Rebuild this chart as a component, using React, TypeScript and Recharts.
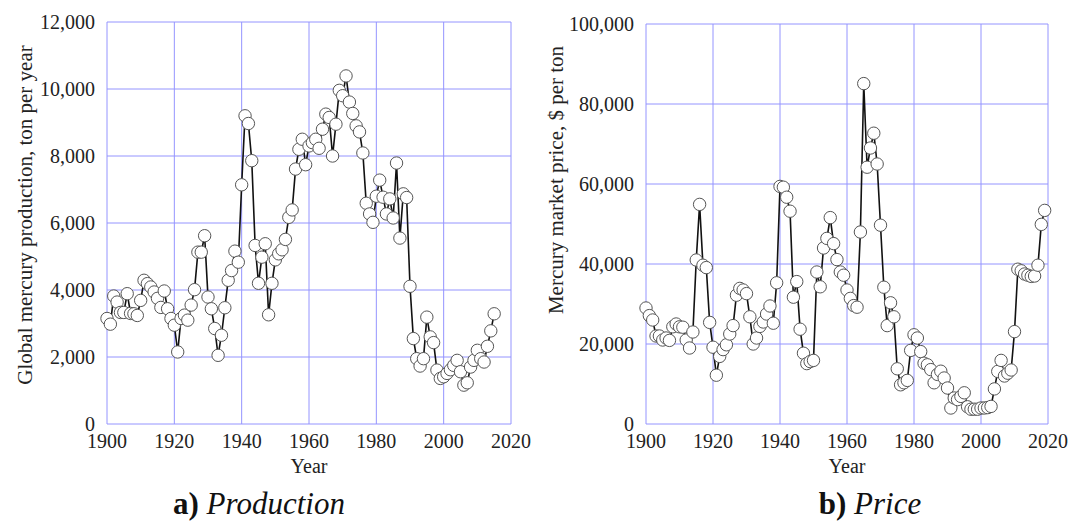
import React from 'react';
import { LineChart, Line, XAxis, YAxis, CartesianGrid } from 'recharts';

const FONT = '"Liberation Serif", "Times New Roman", serif';

// ---- Data ----
const productionYears: number[] = [];
for (let y = 1900; y <= 2015; y++) productionYears.push(y);
const productionValues = [
  3150, 2980, 3820, 3640, 3330, 3330, 3890, 3300, 3290, 3240,
  3690, 4290, 4190, 4090, 3940, 3750, 3480, 3970, 3440, 3150,
  2950, 2150, 3150, 3250, 3100, 3550, 4010, 5130, 5130, 5620,
  3790, 3440, 2850, 2050, 2650, 3470, 4290, 4580, 5160, 4830,
  7140, 9200, 8970, 7860, 5330, 4200, 4980, 5380, 3260, 4200,
  4900, 5080, 5200, 5510, 6170, 6390, 7610, 8200, 8500, 7740,
  8300, 8400, 8500, 8230, 8800, 9250, 9150, 8000, 8950, 9960,
  9800, 10390, 9610, 9270, 8900, 8720, 8090, 6590, 6270, 6020,
  6800, 7280, 6770, 6270, 6720, 6150, 7790, 5550, 6870, 6760,
  4110, 2550, 1950, 1730, 1950, 3190, 2600, 2430, 1610, 1360,
  1410, 1510, 1620, 1750, 1900, 1560, 1160, 1230, 1700, 1900,
  2200, 1950, 1850, 2320, 2780, 3290,
];

const priceYears: number[] = [];
for (let y = 1900; y <= 2019; y++) priceYears.push(y);
const priceValues = [
  29000, 27100, 26000, 22000, 22000, 21000, 21500, 20900, 24300, 25000,
  24300, 24200, 21000, 19000, 23000, 41000, 54900, 39700, 39100, 25400,
  19200, 12200, 16900, 18600, 19800, 22500, 24600, 32200, 33900, 33500,
  32600, 26800, 20000, 21500, 24400, 25500, 27500, 29500, 25200, 35300,
  59400, 59200, 56700, 53200, 31700, 35600, 23700, 17700, 15100, 15600,
  15900, 38000, 34300, 44000, 46400, 51600, 45100, 41100, 38000, 37200,
  33500, 31400, 29600, 29200, 48000, 85100, 64200, 69000, 72700, 65000,
  49700, 34200, 24600, 30300, 26800, 13800, 9800, 10300, 10900, 18400,
  22300, 21500, 18100, 15200, 14800, 13600, 10300, 12400, 13200, 11500,
  9000, 4000, 6500, 6100, 6900, 7800, 4300, 3700, 3700, 3700,
  4000, 4000, 4100, 4400, 8770, 13150, 15900, 12000, 12700, 13500,
  23100, 38700, 38300, 37500, 37200, 36900, 37000, 39700, 49900, 53400,
];

const xMajorTicks = [1900, 1920, 1940, 1960, 1980, 2000, 2020];
const xMinorTicks: number[] = [];
for (let y = 1900; y <= 2020; y += 5) xMinorTicks.push(y);

const prodMajorTicks = [0, 2000, 4000, 6000, 8000, 10000, 12000];
const prodMinorTicks: number[] = [];
for (let v = 0; v <= 12000; v += 500) prodMinorTicks.push(v);

const priceMajorTicks = [0, 20000, 40000, 60000, 80000, 100000];
const priceMinorTicks: number[] = [];
for (let v = 0; v <= 100000; v += 5000) priceMinorTicks.push(v);

const productionData = productionYears.map((year, i) => ({ year, v: productionValues[i] }));
const priceData = priceYears.map((year, i) => ({ year, v: priceValues[i] }));

const AXIS = '#9a9a9a';
const GRID = '#9494ff';
const empty = () => '';
const fmt = (v: number) => v.toLocaleString('en-US');

function Panel(props: {
  width: number;
  data: { year: number; v: number }[];
  yMax: number;
  yMajor: number[];
  yMinor: number[];
  margin: { top: number; right: number; bottom: number; left: number };
}) {
  const { width, data, yMax, yMajor, yMinor, margin } = props;
  const tickStyle = { fontSize: 20, fontFamily: FONT, fill: '#222' };
  return (
    <LineChart width={width} height={521} data={data} margin={margin}>
      <CartesianGrid stroke={GRID} strokeWidth={1} xAxisId="main" yAxisId="main" />
      <XAxis
        xAxisId="main"
        dataKey="year"
        type="number"
        domain={[1900, 2020]}
        ticks={xMajorTicks}
        interval={0}
        tickLine={false}
        axisLine={false}
        tickSize={0}
        tickMargin={10}
        height={30}
        tick={tickStyle}
      />
      <XAxis
        xAxisId="bminor"
        dataKey="year"
        type="number"
        domain={[1900, 2020]}
        ticks={xMinorTicks}
        interval={0}
        mirror
        tickFormatter={empty}
        tickSize={4}
        height={0}
        axisLine={{ stroke: AXIS }}
        tickLine={{ stroke: AXIS }}
      />
      <XAxis
        xAxisId="tminor"
        orientation="top"
        dataKey="year"
        type="number"
        domain={[1900, 2020]}
        ticks={xMinorTicks}
        interval={0}
        mirror
        tickFormatter={empty}
        tickSize={4}
        height={0}
        axisLine={{ stroke: AXIS }}
        tickLine={{ stroke: AXIS }}
      />
      <YAxis
        yAxisId="main"
        type="number"
        domain={[0, yMax]}
        ticks={yMajor}
        interval={0}
        tickLine={false}
        axisLine={false}
        tickSize={0}
        tickMargin={12}
        width={60}
        tickFormatter={fmt}
        tick={tickStyle}
      />
      <YAxis
        yAxisId="lminor"
        type="number"
        domain={[0, yMax]}
        ticks={yMinor}
        interval={0}
        mirror
        tickFormatter={empty}
        tickSize={4}
        width={0}
        axisLine={{ stroke: AXIS }}
        tickLine={{ stroke: AXIS }}
      />
      <YAxis
        yAxisId="rminor"
        orientation="right"
        type="number"
        domain={[0, yMax]}
        ticks={yMinor}
        interval={0}
        mirror
        tickFormatter={empty}
        tickSize={4}
        width={0}
        axisLine={{ stroke: AXIS }}
        tickLine={{ stroke: AXIS }}
      />
      <Line
        xAxisId="main"
        yAxisId="main"
        type="linear"
        dataKey="v"
        stroke="#111"
        strokeWidth={1.6}
        dot={{ r: 6.2, fill: '#fff', stroke: '#555', strokeWidth: 1 }}
        isAnimationActive={false}
      />
    </LineChart>
  );
}

export default function App() {
  return (
    <div style={{ position: 'absolute', left: 0, top: 0, width: 1074, height: 521, background: '#fff', overflow: 'hidden' }}>
      <div style={{ position: 'absolute', left: 0, top: 0 }}>
        <Panel
          width={540}
          data={productionData}
          yMax={12000}
          yMajor={prodMajorTicks}
          yMinor={prodMinorTicks}
          margin={{ top: 22, right: 29, bottom: 67, left: 47 }}
        />
      </div>
      <div style={{ position: 'absolute', left: 540, top: 0 }}>
        <Panel
          width={534}
          data={priceData}
          yMax={100000}
          yMajor={priceMajorTicks}
          yMinor={priceMinorTicks}
          margin={{ top: 24, right: 26, bottom: 67, left: 46 }}
        />
      </div>
      <svg
        width={1074}
        height={521}
        style={{ position: 'absolute', left: 0, top: 0, pointerEvents: 'none' }}
        fontFamily={FONT}
      >
        <text transform="translate(25,215) rotate(-90)" textAnchor="middle" dominantBaseline="central" fontSize={21} fill="#222">
          Global mercury production, ton per year
        </text>
        <text transform="translate(556,180) rotate(-90)" textAnchor="middle" dominantBaseline="central" fontSize={21} fill="#222">
          Mercury market price, $ per ton
        </text>
        <text x={309} y={473} textAnchor="middle" fontSize={20} fill="#222">Year</text>
        <text x={847} y={473} textAnchor="middle" fontSize={20} fill="#222">Year</text>
        <text x={259} y={514} textAnchor="middle" fontSize={31} fill="#111">
          <tspan fontWeight="bold">a)</tspan>
          <tspan fontStyle="italic"> Production</tspan>
        </text>
        <text x={870} y={514} textAnchor="middle" fontSize={31} fill="#111">
          <tspan fontWeight="bold">b)</tspan>
          <tspan fontStyle="italic"> Price</tspan>
        </text>
      </svg>
    </div>
  );
}
